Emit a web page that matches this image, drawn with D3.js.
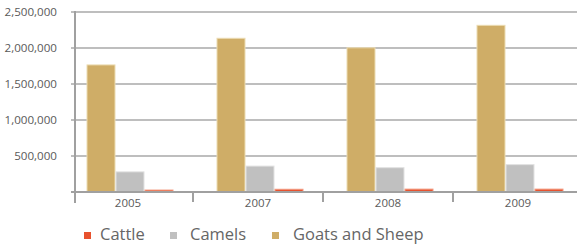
<!DOCTYPE html>
<html><head><meta charset="utf-8">
<script src="https://cdn.jsdelivr.net/npm/d3@7"></script>
<style>body{margin:0;background:#fff}svg{display:block}</style>
</head><body>
<script>
const years = ["2005","2007","2008","2009"];
const seriesNames = ["Goats and Sheep","Camels","Cattle"];
const goatsSheep = [1765000, 2135000, 2003000, 2315000];
const camels = [280000, 360000, 338000, 380000];
const cattle = [27000, 38000, 40000, 40000];
const yTicks = [0, 500000, 1000000, 1500000, 2000000, 2500000];
const legendOrder = ["Cattle","Camels","Goats and Sheep"];

const colors = {"Cattle":"#e8522e","Camels":"#c0c0c0","Goats and Sheep":"#cfad67"};
const strokes = {"Cattle":"#f29a80","Camels":"#e2e2e2","Goats and Sheep":"#ecdcb2"};
const values = {"Goats and Sheep":goatsSheep,"Camels":camels,"Cattle":cattle};

const W=577,H=245;
const svg=d3.select("body").append("svg").attr("width",W).attr("height",H);
const y=d3.scaleLinear().domain([0,2500000]).range([192,12]);
const x=d3.scaleBand().domain(years).range([65,585]).paddingInner(0).paddingOuter(0);
const xs=d3.scaleBand().domain(seriesNames).range([0,87]);
const groupOff=(x.bandwidth()-87)/2;

// gridlines
svg.append("g").selectAll("line").data(yTicks).join("line")
  .attr("x1",71).attr("x2",W).attr("y1",d=>y(d)).attr("y2",d=>y(d))
  .attr("stroke","#a8a8a8").attr("stroke-width",1.5);

// y labels
svg.append("g").selectAll("text").data(yTicks.filter(d=>d>0)).join("text")
  .attr("x",57).attr("y",d=>y(d)+4).attr("text-anchor","end")
  .attr("font-family","Open Sans").attr("font-size",11.6).attr("fill","#5a5a5a")
  .text(d3.format(","));

// bars
const g=svg.append("g");
seriesNames.forEach(s=>{
  g.selectAll(null).data(years).join("rect")
   .attr("x",(d)=>x(d)+groupOff+xs(s)+0.5)
   .attr("width",xs.bandwidth()-1)
   .attr("y",(d,i)=>y(values[s][i]))
   .attr("height",(d,i)=>192-y(values[s][i]))
   .attr("fill",colors[s]).attr("stroke",strokes[s]).attr("stroke-width",1);
});

// baseline and axis
svg.append("line").attr("x1",71).attr("x2",W).attr("y1",192).attr("y2",192).attr("stroke","#a0a0a0").attr("stroke-width",2);
svg.append("line").attr("x1",75).attr("x2",75).attr("y1",11).attr("y2",203).attr("stroke","#a0a0a0").attr("stroke-width",2);
svg.append("g").selectAll("line").data(years.slice(1)).join("line")
  .attr("x1",d=>x(d)-2).attr("x2",d=>x(d)-2).attr("y1",192).attr("y2",202)
  .attr("stroke","#a0a0a0").attr("stroke-width",2);
svg.append("g").selectAll("text").data(years).join("text")
  .attr("x",d=>x(d)+x.bandwidth()/2-2).attr("y",207).attr("text-anchor","middle")
  .attr("font-family","Open Sans").attr("font-size",11.5).attr("fill","#5a5a5a").text(d=>d);

// legend
const legX={"Cattle":84,"Camels":170,"Goats and Sheep":272};
const legT={"Cattle":100,"Camels":190,"Goats and Sheep":293};
const lg=svg.append("g");
legendOrder.forEach(s=>{
  lg.append("rect").attr("x",legX[s]).attr("y",232).attr("width",7).attr("height",7).attr("fill",colors[s]);
  lg.append("text").attr("x",legT[s]).attr("y",239.5).attr("font-family","Open Sans").attr("font-size",16.5).attr("fill","#666").text(s);
});
</script>
</body></html>
